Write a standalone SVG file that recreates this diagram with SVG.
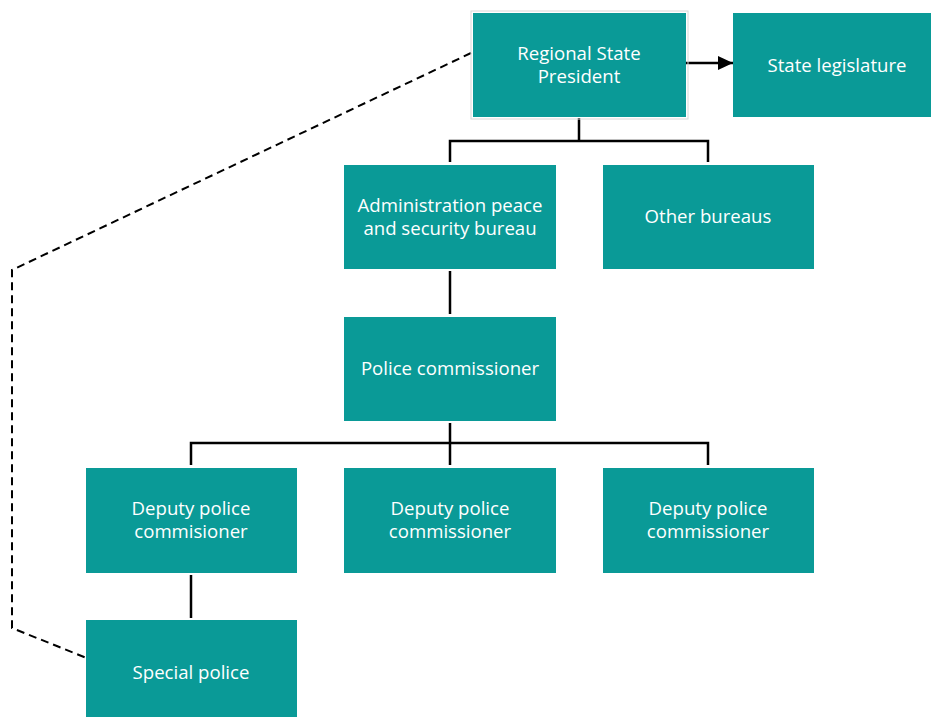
<svg xmlns="http://www.w3.org/2000/svg" width="931" height="717" viewBox="0 0 931 717">
<defs>
<style>
.box{fill:#0A9A97;}
.lbl{font-family:"Open Sans","Liberation Sans",sans-serif;font-size:18.6px;fill:#ffffff;text-anchor:middle;}
.solid{fill:none;stroke:#000;stroke-width:2.5;}
.dash{fill:none;stroke:#000;stroke-width:2;stroke-dasharray:8 5;}
</style>
<marker id="arr" markerWidth="16" markerHeight="16" refX="15" refY="8" orient="auto" markerUnits="userSpaceOnUse">
<path d="M0,1 L15,8 L0,15 Z" fill="#000"/>
</marker>
</defs>
<rect width="931" height="717" fill="#fff"/>
<g id="connectors">
<path class="solid" d="M686,63 H733" marker-end="url(#arr)"/>
<path class="solid" d="M579,118 V141 M450,162 V141 H708 V162"/>
<path class="solid" d="M450,271 V314"/>
<path class="solid" d="M450,423 V465 M191,465 V443 H708 V465"/>
<path class="solid" d="M191,575 V618"/>
<path class="dash" d="M471,53 L12,270 V628 L89,659"/>
</g>
<g id="president">
<rect x="471" y="11" width="217" height="108" fill="none" stroke="#d8d8d8" stroke-width="1"/>
<rect class="box" x="473" y="13" width="213" height="104"/>
<text class="lbl" x="579" y="60">Regional State</text>
<text class="lbl" x="579" y="83">President</text>
</g>
<g id="legislature">
<rect class="box" x="733" y="13" width="198" height="104"/>
<text class="lbl" x="837" y="72">State legislature</text>
</g>
<g id="admin">
<rect class="box" x="344" y="165" width="212" height="104"/>
<text class="lbl" x="450" y="212">Administration peace</text>
<text class="lbl" x="450" y="235">and security bureau</text>
</g>
<g id="other">
<rect class="box" x="603" y="165" width="211" height="104"/>
<text class="lbl" x="708" y="223">Other bureaus</text>
</g>
<g id="police">
<rect class="box" x="344" y="317" width="212" height="104"/>
<text class="lbl" x="450" y="375">Police commissioner</text>
</g>
<g id="deputy1">
<rect class="box" x="86" y="468" width="211" height="105"/>
<text class="lbl" x="191" y="515">Deputy police</text>
<text class="lbl" x="191" y="538">commisioner</text>
</g>
<g id="deputy2">
<rect class="box" x="344" y="468" width="212" height="105"/>
<text class="lbl" x="450" y="515">Deputy police</text>
<text class="lbl" x="450" y="538">commissioner</text>
</g>
<g id="deputy3">
<rect class="box" x="603" y="468" width="211" height="105"/>
<text class="lbl" x="708" y="515">Deputy police</text>
<text class="lbl" x="708" y="538">commissioner</text>
</g>
<g id="special">
<rect class="box" x="86" y="620" width="211" height="100"/>
<text class="lbl" x="191" y="679">Special police</text>
</g>
</svg>
